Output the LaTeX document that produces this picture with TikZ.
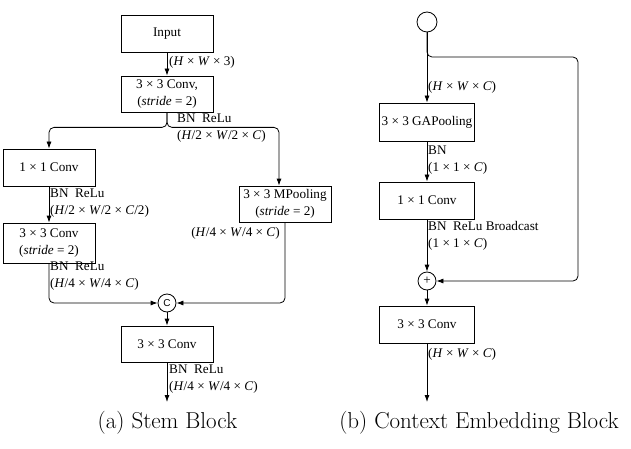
\documentclass[tikz,border=0pt]{standalone}
\usepackage{fontspec}
\newfontfamily\tnr{Liberation Serif}
\newfontfamily\tns{Liberation Sans}
\newcommand{\dimx}{\hspace{0.25em}×\hspace{0.25em}}
\usetikzlibrary{arrows.meta}

\begin{document}
\begin{tikzpicture}
  [x=1pt,y=-1pt,
   every node/.style={font=\tnr\fontsize{13.2}{17}\selectfont},
   box/.style={draw,line width=0.8pt,minimum width=92pt,minimum height=36pt,inner sep=2pt,align=center},
   wbox/.style={box,minimum width=95pt},
   op/.style={circle,draw,line width=0.8pt,minimum size=18pt,inner sep=0pt},
   lbl/.style={anchor=west,align=left,inner sep=0pt},
   flow/.style={line width=0.8pt,-{Latex[length=7pt,width=5pt]}},
   captxt/.style={font=\fontsize{23}{27}\selectfont}]
  \useasboundingbox (0,0) rectangle (631,449);

  % stem block
  \node[box,minimum height=37pt] (input) at (167,33.5) {Input};
  \node[box] (conv1) at (167,94) {3\dimx3 Conv,\\(\textit{stride} = 2)};
  \node[box,minimum height=37pt] (conv2) at (49,167.5) {1\dimx1 Conv};
  \node[box,minimum height=40pt] (conv3) at (49,243) {3\dimx3 Conv\\(\textit{stride} = 2)};
  \node[box] (mpool) at (285,204) {3\dimx3 MPooling\\(\textit{stride} = 2)};
  \node[op,font=\tns\fontsize{10}{12}\selectfont] (cat) at (167,303) {C};
  \node[box] (conv4) at (167,344) {3\dimx3 Conv};
  \coordinate (out1) at (167,402);

  \foreach \from/\to in {input/conv1,conv2/conv3,cat/conv4,conv4/out1}
    \draw[flow] (\from) -- (\to);
  \draw[flow,rounded corners=5pt] (conv1.south) -- ++(0,15) -| (conv2.north);
  \draw[flow,rounded corners=5pt] (conv1.south) -- ++(0,15) -| ([xshift=-6pt]mpool.north);
  \draw[flow,rounded corners=5pt] (conv3.south) |- (cat.west);
  \draw[flow,rounded corners=5pt] (mpool.south) |- (cat.east);

  \node[lbl] (d0) at (169,62) {(\textit{H}\dimx\textit{W}\dimx3)};
  \node[lbl] (d1) at (177,128) {BN\enspace ReLu\\(\textit{H}/2\dimx\textit{W}/2\dimx\textit{C})};
  \node[lbl] (d2) at (50,203.5) {BN\enspace ReLu\\(\textit{H}/2\dimx\textit{W}/2\dimx\textit{C}/2)};
  \node[lbl] (d3) at (50,276) {BN\enspace ReLu\\(\textit{H}/4\dimx\textit{W}/4\dimx\textit{C})};
  \node[lbl,anchor=east] (d4) at (280,233) {(\textit{H}/4\dimx\textit{W}/4\dimx\textit{C})};
  \node[lbl] (d5) at (169,379) {BN\enspace ReLu\\(\textit{H}/4\dimx\textit{W}/4\dimx\textit{C})};

  % context embedding block
  \node[op,minimum size=20pt] (top) at (427,22) {};
  \node[wbox,minimum height=38pt] (gap) at (427,122) {3\dimx3 GAPooling};
  \node[wbox,minimum height=37pt] (fc) at (427,200.5) {1\dimx1 Conv};
  \node[op] (plus) at (427,281) {+};
  \node[wbox,minimum height=37pt] (conv5) at (427,324.5) {3\dimx3 Conv};
  \coordinate (skip) at (578,57);
  \coordinate (out2) at (427,402);

  \foreach \from/\to in {top/gap,gap/fc,fc/plus,plus/conv5,conv5/out2}
    \draw[flow] (\from) -- (\to);
  \draw[flow,rounded corners=5pt] (top.south) |- (skip) |- (plus.east);

  \node[lbl] (e0) at (428,87) {(\textit{H}\dimx\textit{W}\dimx\textit{C})};
  \node[lbl] (e1) at (428,160) {BN\\(1\dimx1\dimx\textit{C})};
  \node[lbl] (e2) at (428,236) {BN\enspace ReLu Broadcast\\(1\dimx1\dimx\textit{C})};
  \node[lbl] (e3) at (428,354) {(\textit{H}\dimx\textit{W}\dimx\textit{C})};

  \node[captxt] (capa) at (167.5,423) {(a) Stem Block};
  \node[captxt] (capb) at (479,423) {(b) Context Embedding Block};
\end{tikzpicture}
\end{document}
